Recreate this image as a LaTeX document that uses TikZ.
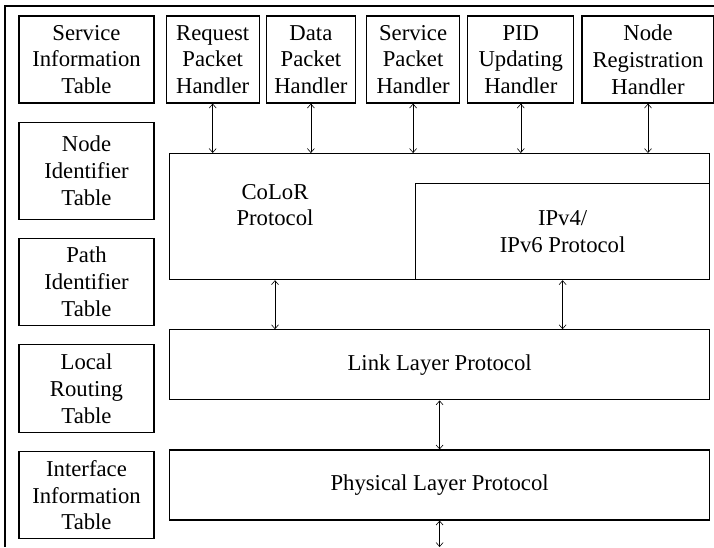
\documentclass[tikz,border=0pt]{standalone}
\usepackage{fontspec}
\setmainfont{Liberation Serif}
\usepackage{tikz}
\usetikzlibrary{arrows.meta}
\usetikzlibrary {positioning}
\tikzset{main node/.style={rectangle,fill=white,draw,line width=1.2pt,inner sep=0pt,align=center,font=\fontsize{22.7}{26.8}\selectfont}}
\tikzset{link arrow/.style={{Straight Barb[length=4pt,width=7pt]}-{Straight Barb[length=4pt,width=7pt]},line width=0.6pt}}

\begin{document}
\begin{tikzpicture}[x=1pt,y=1pt]
    	\useasboundingbox (0,0) rectangle (714,-547);
    	\draw[line width=1.2pt] (714,-6) -- (5,-6) -- (5,-547);

    	% tables on the left
    	\node[main node,minimum width=135pt,minimum height=87pt] (t_{1}) at (86.5,-59.5) {Service\\Information\\Table};
    	\node[main node,minimum width=135pt,minimum height=97pt] (t_{2}) [below = 18pt of t_{1}] {Node\\Identifier\\Table};
    	\node[main node,minimum width=135pt,minimum height=87pt] (t_{3}) [below = 18pt of t_{2}] {Path\\Identifier\\Table};
    	\node[main node,minimum width=135pt,minimum height=88pt] (t_{4}) [below = 18pt of t_{3}] {Local\\Routing\\Table};
    	\node[main node,minimum width=135pt,minimum height=87pt] (t_{5}) [below = 18pt of t_{4}] {Interface\\Information\\Table};

    	% handlers
    	\node[main node,minimum width=93pt,minimum height=87pt] (h_{1}) [right = 11pt of t_{1}] {Request\\Packet\\Handler};
    	\node[main node,minimum width=89pt,minimum height=87pt] (h_{2}) [right = 6pt of h_{1}] {Data\\Packet\\Handler};
    	\node[main node,minimum width=93pt,minimum height=87pt] (h_{3}) [right = 10pt of h_{2}] {Service\\Packet\\Handler};
    	\node[main node,minimum width=106pt,minimum height=87pt] (h_{4}) [right = 7pt of h_{3}] {PID\\Updating\\Handler};
    	\node[main node,minimum width=132pt,minimum height=87pt] (h_{5}) [right = 7pt of h_{4}] {Node\\Registration\\Handler};

    	% protocol layers
    	\node[main node,minimum width=540pt,minimum height=126pt,anchor=north west] (p_{1}) at (169,-153) {};
    	\node[main node,minimum width=294pt,minimum height=96pt,anchor=south east] (p_{2}) at (p_{1}.south east) {IPv4/\\IPv6 Protocol};
    	\node[main node,draw=none,fill=none] (p_{0}) at (275,-205) {CoLoR\\Protocol};
    	\node[main node,minimum width=540pt,minimum height=70pt] (l_{1}) [below = 49pt of p_{1}] {Link Layer Protocol};
    	\node[main node,minimum width=540pt,minimum height=70pt] (l_{2}) [below = 49pt of l_{1}] {Physical Layer Protocol};
    	\coordinate (out) at (l_{2}.south |- 0,-547);

    	\path [link arrow]
    	(h_{1}.south) edge (h_{1}.south |- p_{1}.north)
    	(h_{2}.south) edge (h_{2}.south |- p_{1}.north)
    	(h_{3}.south) edge (h_{3}.south |- p_{1}.north)
    	(h_{4}.south) edge (h_{4}.south |- p_{1}.north)
    	(h_{5}.south) edge (h_{5}.south |- p_{1}.north)
    	(p_{0} |- p_{1}.south) edge (p_{0} |- l_{1}.north)
    	(p_{2}.south) edge (p_{2}.south |- l_{1}.north)
    	(l_{1}.south) edge (l_{2}.north)
    	(l_{2}.south) edge (out);
    \end{tikzpicture}
\end{document}
